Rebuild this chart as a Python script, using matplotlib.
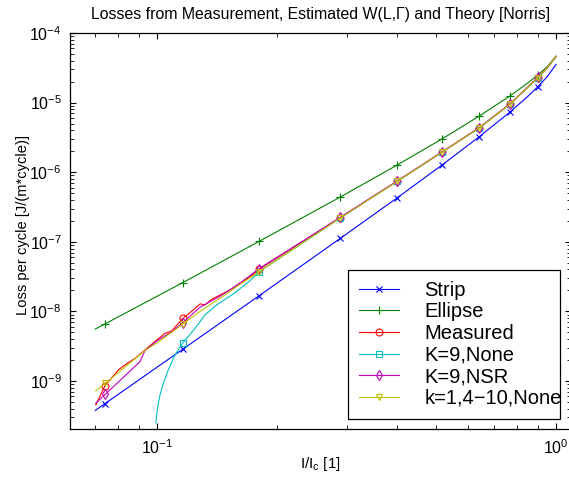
import numpy as np
import matplotlib
matplotlib.use('Agg')
import matplotlib.pyplot as plt
import matplotlib.ticker as ticker

plt.rcParams['font.family'] = ['Liberation Sans', 'DejaVu Sans']
plt.rcParams['mathtext.fontset'] = 'custom'
plt.rcParams['mathtext.rm'] = 'Liberation Sans'
plt.rcParams['mathtext.it'] = 'Liberation Sans:italic'
plt.rcParams['mathtext.bf'] = 'Liberation Sans:bold'
plt.rcParams['mathtext.default'] = 'regular'

# theory curves (Norris)
i_theory = [0.07, 0.0741, 0.116, 0.18, 0.288, 0.40, 0.519, 0.641, 0.767, 0.85, 0.90, 0.95, 1.0]
strip = [3.78e-10, 4.74e-10, 2.86e-9, 1.67e-8, 1.12e-7, 4.29e-7, 1.28e-6, 3.21e-6,
         7.35e-6, 1.23e-5, 1.69e-5, 2.35e-5, 3.55e-5]
ellipse = [5.57e-9, 6.62e-9, 2.59e-8, 1.01e-7, 4.40e-7, 1.27e-6, 3.03e-6, 6.37e-6,
           1.25e-5, 1.92e-5, 2.49e-5, 3.28e-5, 4.65e-5]
theory_marks = [1, 2, 3, 4, 5, 6, 7, 8, 10]

# measured
i_meas = [0.0702, 0.0741, 0.080, 0.0831, 0.0881, 0.0933, 0.0998, 0.1047, 0.1088, 0.1131,
          0.116, 0.1233, 0.1282, 0.1319, 0.1371, 0.1438, 0.1524, 0.1615, 0.1710, 0.18,
          0.288, 0.40, 0.519, 0.641, 0.767, 0.90, 0.95, 1.0]
measured = [4.52e-10, 8.6e-10, 1.44e-9, 1.70e-9, 2.12e-9, 2.79e-9, 3.88e-9, 4.84e-9, 5.23e-9, 6.74e-9,
            7.9e-9, 1.05e-8, 1.28e-8, 1.24e-8, 1.49e-8, 1.72e-8, 2.03e-8, 2.56e-8, 3.12e-8, 4.0e-8,
            2.23e-7, 7.43e-7, 1.96e-6, 4.33e-6, 9.58e-6, 2.28e-5, 3.15e-5, 4.6e-5]
meas_marks = [1, 10, 19, 20, 21, 22, 23, 24, 25]

# K=9, None
i_k9 = [0.0993, 0.1004, 0.1017, 0.1037, 0.1067, 0.1109, 0.116, 0.1245, 0.1319, 0.1411, 0.1553,
        0.171, 0.18, 0.288, 0.40, 0.519, 0.641, 0.767, 0.90, 0.95, 1.0]
k9_none = [2.5e-10, 4.3e-10, 6.3e-10, 9.3e-10, 1.44e-9, 2.37e-9, 3.5e-9, 5.7e-9, 8.9e-9, 1.24e-8,
           1.78e-8, 2.75e-8, 3.7e-8, 2.2e-7, 7.4e-7, 1.95e-6, 4.3e-6, 9.5e-6, 2.27e-5, 3.15e-5, 4.6e-5]
k9_marks = [6, 12, 13, 14, 15, 16, 17, 18]

# K=9, NSR
i_nsr = [0.0702, 0.0741, 0.0906, 0.0933, 0.0998, 0.1088, 0.116, 0.1282, 0.1438, 0.1615, 0.18,
         0.288, 0.40, 0.519, 0.641, 0.767, 0.90, 0.95, 1.0]
k9_nsr = [4.8e-10, 6.4e-10, 1.89e-9, 2.75e-9, 3.75e-9, 5.1e-9, 6.9e-9, 1.15e-8, 1.65e-8, 2.55e-8,
          4.1e-8, 2.25e-7, 7.5e-7, 1.97e-6, 4.35e-6, 9.6e-6, 2.3e-5, 3.15e-5, 4.6e-5]
nsr_marks = [1, 6, 10, 11, 12, 13, 14, 15, 16]

# k=1,4-10, None
i_k110 = [0.0702, 0.0741, 0.0933, 0.0998, 0.1088, 0.116, 0.1282, 0.1438, 0.1615, 0.18,
          0.288, 0.40, 0.519, 0.641, 0.767, 0.90, 0.95, 1.0]
k110_none = [7.2e-10, 9.2e-10, 2.75e-9, 3.5e-9, 5.0e-9, 6.6e-9, 1.0e-8, 1.55e-8, 2.45e-8, 3.7e-8,
             2.2e-7, 7.4e-7, 1.95e-6, 4.3e-6, 9.5e-6, 2.27e-5, 3.15e-5, 4.6e-5]
k110_marks = [1, 5, 9, 10, 11, 12, 13, 14, 15]

fig = plt.figure(figsize=(5.69, 4.8), dpi=100)
ax = fig.add_axes([70 / 569, 51 / 480, 501 / 569, 396 / 480])

lw = 0.8
ms = 5
ax.plot(i_theory, strip, color='#0000ff', lw=lw, marker='x', ms=ms, mew=lw,
        markevery=theory_marks, label='Strip')
ax.plot(i_theory, ellipse, color='#008000', lw=lw, marker='+', ms=ms + 1, mew=lw,
        markevery=theory_marks, label='Ellipse')
ax.plot(i_meas, measured, color='#ff0000', lw=lw, marker='o', ms=ms, mew=lw, mfc='none',
        markevery=meas_marks, label='Measured')
ax.plot(i_k9, k9_none, color='#00bfbf', lw=lw, marker='s', ms=ms - 0.5, mew=lw, mfc='none',
        markevery=k9_marks, label='K=9,None')
ax.plot(i_nsr, k9_nsr, color='#bf00bf', lw=lw, marker='d', ms=ms, mew=lw, mfc='none',
        markevery=nsr_marks, label='K=9,NSR')
ax.plot(i_k110, k110_none, color='#bfbf00', lw=lw, marker='v', ms=ms, mew=lw, mfc='none',
        markevery=k110_marks, label='k=1,4\u221210,None')

ax.set_xscale('log')
ax.set_yscale('log')
ax.set_xlim(0.0605, 1.09)
ax.set_ylim(2.04e-10, 1e-4)
ax.xaxis.set_minor_formatter(ticker.NullFormatter())
ax.yaxis.set_minor_formatter(ticker.NullFormatter())
ax.tick_params(which='both', direction='in', top=True, right=True, labelsize=11.5)
ax.tick_params(which='major', length=4.5, width=0.8)
ax.tick_params(which='minor', length=2.8, width=0.6)
ax.tick_params(axis='x', pad=7)
ax.tick_params(axis='y', pad=6)
for s in ax.spines.values():
    s.set_linewidth(0.9)

ax.set_title('Losses from Measurement, Estimated W(L,\u0393) and Theory [Norris]',
             fontsize=11.4, pad=10)
ax.set_xlabel(r'I/I$_\mathdefault{c}$ [1]', fontsize=11, labelpad=-2)
ax.set_ylabel('Loss per cycle [J/(m*cycle)]', fontsize=10.6, labelpad=-0.5, y=0.515)

leg = ax.legend(loc='lower left', bbox_to_anchor=(0.555, 0.0253, 0.423, 0.374), mode='expand',
                fontsize=14.5, frameon=True, fancybox=False, edgecolor='black', framealpha=1,
                handlelength=2.0, handletextpad=1.25, labelspacing=0.13,
                borderpad=0.55, borderaxespad=0)
leg.get_frame().set_linewidth(0.9)

fig.savefig('out.png', dpi=100)
